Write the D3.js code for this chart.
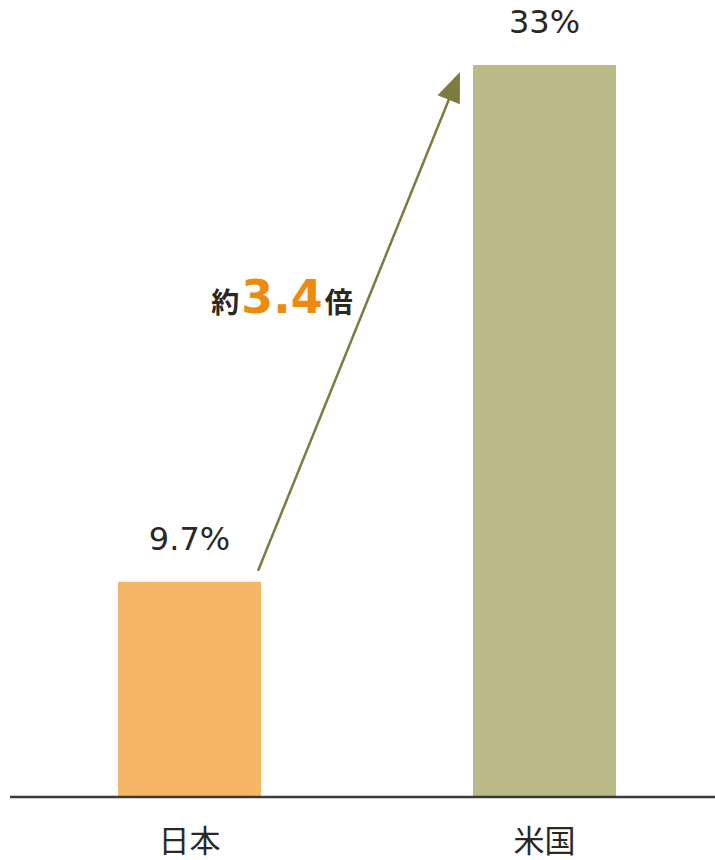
<!DOCTYPE html>
<html>
<head>
<meta charset="utf-8">
<script src="https://cdn.jsdelivr.net/npm/d3@7"></script>
<style>
  body { margin: 0; background: #ffffff; }
  svg { display: block; }
</style>
</head>
<body>
<div id="chart"></div>
<script>
// chart data
var countries = ["日本", "米国"];
var values = [9.7, 33];
var valueLabels = ["9.7%", "33%"];
var barColors = ["#f5b765", "#bab987"];
var ratioLabel = ["約", "3.4", "倍"];

var width = 715, height = 860;
var baseY = 797, topY = 65;

var svg = d3.select("#chart").append("svg")
    .attr("width", width)
    .attr("height", height);

var x = d3.scaleBand()
    .domain(countries)
    .range([18, 716])
    .paddingInner(0.597)
    .paddingOuter(0.2817);

var y = d3.scaleLinear()
    .domain([0, d3.max(values)])
    .range([baseY, topY]);

// bars
svg.selectAll(".bar")
  .data(countries)
  .enter().append("rect")
    .attr("class", "bar")
    .attr("x", function(d) { return x(d); })
    .attr("y", function(d, i) { return y(values[i]); })
    .attr("width", x.bandwidth())
    .attr("height", function(d, i) { return baseY - y(values[i]); })
    .attr("fill", function(d, i) { return barColors[i]; });

// value labels above bars
svg.selectAll(".val")
  .data(countries)
  .enter().append("text")
    .attr("class", "val")
    .attr("x", function(d) { return x(d) + x.bandwidth() / 2; })
    .attr("y", function(d, i) { return y(values[i]) - 32; })
    .attr("text-anchor", "middle")
    .style("font-family", "'DejaVu Sans', Verdana, sans-serif")
    .style("font-size", "32px")
    .style("fill", "#2b2723")
    .text(function(d, i) { return valueLabels[i]; });

// baseline axis
svg.append("g")
    .attr("transform", "translate(0," + baseY + ")")
    .call(d3.axisBottom(x).tickSize(0).tickPadding(33))
    .call(function(g) {
      g.select(".domain")
        .attr("d", "M10,0H715")
        .attr("stroke", "#3d3a35")
        .attr("stroke-width", 2.5);
      g.selectAll("text")
        .style("font-family", "'Noto Sans CJK JP', sans-serif")
        .style("font-size", "31px")
        .style("fill", "#2b2723");
    });

// arrow between bars
var x0 = x(countries[0]) + x.bandwidth() - 3, y0 = y(values[0]) - 11;
var x1 = x(countries[1]) - 13, y1 = y(values[1]) + 7;
svg.append("line")
    .attr("x1", x0).attr("y1", y0)
    .attr("x2", x1 - 6).attr("y2", y1 + 15)
    .attr("stroke", "#7d7b40")
    .attr("stroke-width", 2.5);
svg.append("path")
    .attr("d", function() {
      var ang = Math.atan2(y1 - y0, x1 - x0);
      var len = 30, half = 12;
      var bx = x1 - len * Math.cos(ang), by = y1 - len * Math.sin(ang);
      var px = -Math.sin(ang) * half, py = Math.cos(ang) * half;
      return "M" + x1 + "," + y1 + "L" + (bx + px) + "," + (by + py) + "L" + (bx - px) + "," + (by - py) + "Z";
    })
    .attr("fill", "#7d7b40");

// ratio annotation
var note = svg.append("text")
    .attr("x", 282)
    .attr("y", 313)
    .attr("text-anchor", "middle")
    .style("font-weight", "bold");
note.append("tspan")
    .style("font-family", "'Noto Sans CJK JP', sans-serif")
    .style("font-size", "28px")
    .style("fill", "#2b2723")
    .text(ratioLabel[0]);
note.append("tspan")
    .style("font-family", "'DejaVu Sans', Verdana, sans-serif")
    .style("font-size", "46px")
    .style("fill", "#ee8a0c")
    .attr("dx", 2)
    .text(ratioLabel[1]);
note.append("tspan")
    .style("font-family", "'Noto Sans CJK JP', sans-serif")
    .style("font-size", "28px")
    .style("fill", "#2b2723")
    .attr("dx", 2)
    .text(ratioLabel[2]);
</script>
</body>
</html>
